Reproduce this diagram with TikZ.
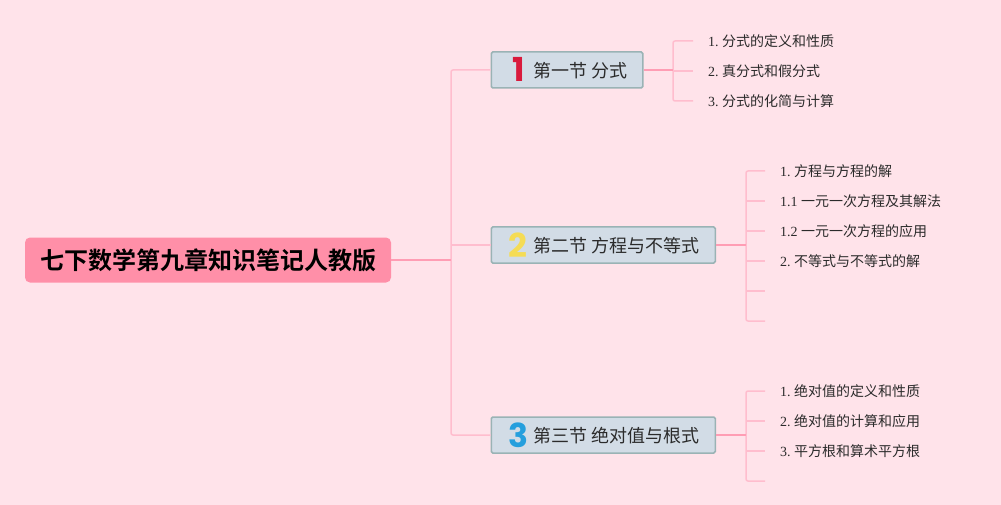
\documentclass[tikz,border=0pt]{standalone}
\usepackage{fontspec}
\setmainfont{Liberation Serif}
\newfontfamily\cjk{Noto Sans CJK SC}
\newfontfamily\cjkb{Noto Sans CJK SC Bold}
\newfontfamily\numf{Poppins Bold}
\definecolor{bgc}{HTML}{FFE3EA}
\definecolor{rootc}{HTML}{FF8FA8}
\definecolor{secc}{HTML}{D2DCE6}
\definecolor{secb}{HTML}{9AB3B5}
\definecolor{linea}{HTML}{FFBDCE}
\definecolor{lineb}{HTML}{FF9DB4}
\definecolor{inkc}{HTML}{2B2B2B}
\definecolor{numa}{HTML}{D91A3C}
\definecolor{numb}{HTML}{F5DC55}
\definecolor{numc}{HTML}{259FDD}
\tikzset{
  x=1pt,y=-1pt,
  rootbox/.style={fill=rootc,rounded corners=5pt,minimum width=366pt,minimum height=45pt,inner sep=0pt,font=\cjkb\fontsize{24}{24}\selectfont,text=black},
  secbox/.style={fill=secc,draw=secb,line width=1.5pt,rounded corners=1.5pt,minimum height=36pt,inner sep=0pt,anchor=west},
  sectxt/.style={anchor=west,inner sep=0pt,font=\cjk\fontsize{18}{18}\selectfont,text=inkc},
  leafnode/.style={anchor=west,inner ysep=0pt,inner xsep=15pt,font=\fontsize{14}{14}\selectfont,text=inkc},
  lite/.style={draw=linea,line width=1.5pt,rounded corners=2pt},
  dark/.style={draw=lineb,line width=2pt},
  numtxt/.style={font=\numf\fontsize{33}{33}\selectfont,inner sep=0pt},
}
\newcommand{\lf}[2]{#1\hspace{3.4pt}{\cjk #2}}
\begin{document}
\begin{tikzpicture}
\useasboundingbox[fill=bgc] (0,0) rectangle (1001,505);
\node[rootbox] (root) at (208,260) {七下数学第九章知识笔记人教版};
\node[secbox,minimum width=151.5pt] (s1) at (490.5,70) {};
\node[secbox,minimum width=224pt] (s2) at (490.5,245) {};
\node[secbox,minimum width=224pt] (s3) at (490.5,435) {};
\node[sectxt] (s1t) at (533.5,71) {第一节 分式};
\node[sectxt] (s2t) at (533.5,246) {第二节 方程与不等式};
\node[sectxt] (s3t) at (533.5,436) {第三节 绝对值与根式};
\node[numtxt,text=numa] (n1) at (518.5,69.5) {1};
\node[numtxt,text=numb] (n2) at (518,245.5) {2};
\node[numtxt,text=numc] (n3) at (518,435.5) {3};
\coordinate (j0) at (451,260);
\coordinate (j1) at (673,70);
\coordinate (j2) at (746,245);
\coordinate (j3) at (746,435);
\node[leafnode] (a1) at (693,41) {\lf{1.}{分式的定义和性质}};
\node[leafnode] (a2) at (693,71) {\lf{2.}{真分式和假分式}};
\node[leafnode] (a3) at (693,101) {\lf{3.}{分式的化简与计算}};
\node[leafnode] (b1) at (765,171) {\lf{1.}{方程与方程的解}};
\node[leafnode] (b2) at (765,201) {\lf{1.1}{一元一次方程及其解法}};
\node[leafnode] (b3) at (765,231) {\lf{1.2}{一元一次方程的应用}};
\node[leafnode] (b4) at (765,261) {\lf{2.}{不等式与不等式的解}};
\coordinate (b5) at (765,291);
\coordinate (b6) at (765,321);
\node[leafnode] (c1) at (765,391) {\lf{1.}{绝对值的定义和性质}};
\node[leafnode] (c2) at (765,421) {\lf{2.}{绝对值的计算和应用}};
\node[leafnode] (c3) at (765,451) {\lf{3.}{平方根和算术平方根}};
\coordinate (c4) at (765,481);
\draw[lite] (s1.west) -- (j0 |- s1.west) -- (j0 |- s3.west) -- (s3.west);
\draw[lite] (j0 |- s2.west) -- (s2.west);
\draw[lite] (a1.west) -- (j1 |- a1.west) -- (j1 |- a3.west) -- (a3.west);
\draw[lite] (j1 |- a2.west) -- (a2.west);
\draw[lite] (b1.west) -- (j2 |- b1.west) -- (j2 |- b6) -- (b6);
\foreach \q in {b2.west,b3.west,b4.west,b5} \draw[lite] (j2 |- \q) -- (\q);
\draw[lite] (c1.west) -- (j3 |- c1.west) -- (j3 |- c4) -- (c4);
\foreach \q in {c2.west,c3.west} \draw[lite] (j3 |- \q) -- (\q);
\draw[dark,line width=1.5pt] (root.east) -- (j0);
\draw[dark] (s1.east) -- (j1);
\draw[dark] (s2.east) -- (j2);
\draw[dark] (s3.east) -- (j3);
\end{tikzpicture}
\end{document}
